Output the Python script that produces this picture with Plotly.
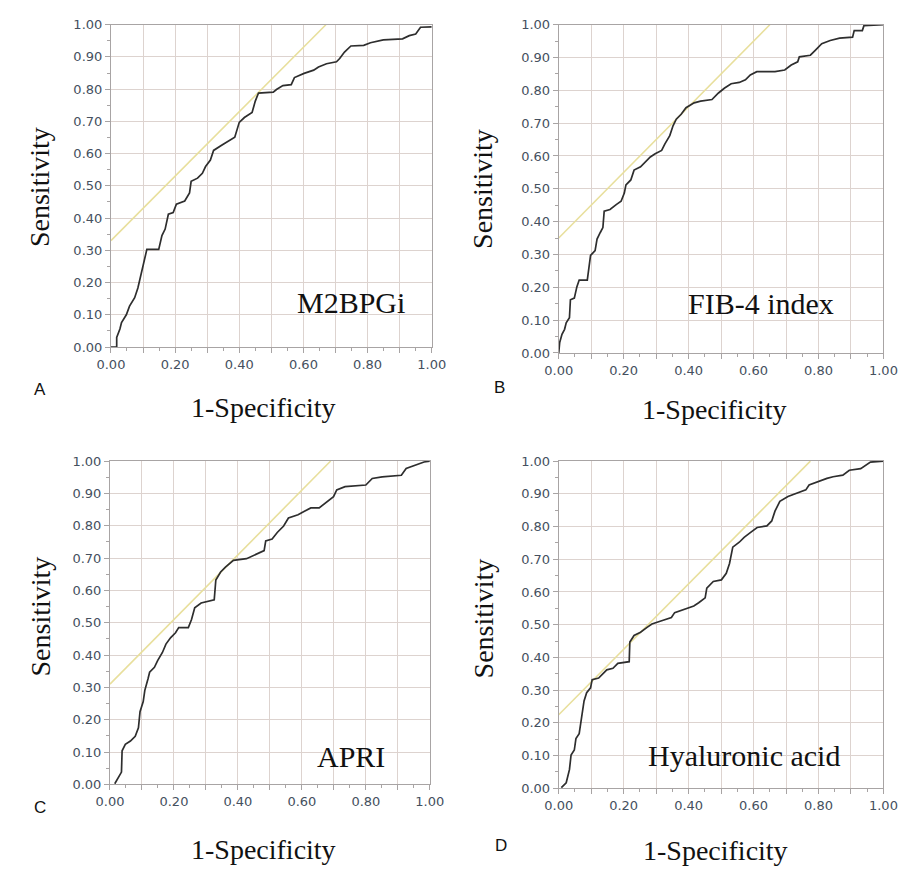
import plotly.graph_objects as go

W, H = 911, 873

# ---------------- data ----------------
m2bpgi_fpr = [0.0, 0.018, 0.018, 0.028, 0.033, 0.048, 0.058, 0.074, 0.084, 0.094, 0.104, 0.112, 0.149, 0.159, 0.169,
              0.179, 0.194, 0.204, 0.23, 0.245, 0.25, 0.27, 0.285, 0.295, 0.31, 0.32, 0.345, 0.37, 0.386, 0.40,
              0.416, 0.44, 0.45, 0.46, 0.506, 0.516, 0.536, 0.562, 0.572, 0.602, 0.632, 0.647, 0.672, 0.703,
              0.713, 0.728, 0.748, 0.788, 0.809, 0.849, 0.909, 0.93, 0.95, 0.965, 1.0]
m2bpgi_tpr = [0.0, 0.0, 0.03, 0.056, 0.076, 0.10, 0.127, 0.153, 0.183, 0.224, 0.265, 0.303, 0.303, 0.346, 0.366,
              0.412, 0.417, 0.443, 0.453, 0.478, 0.514, 0.524, 0.539, 0.56, 0.58, 0.61, 0.626, 0.641, 0.651, 0.697,
              0.712, 0.728, 0.763, 0.788, 0.791, 0.799, 0.811, 0.814, 0.836, 0.849, 0.859, 0.869, 0.879, 0.885,
              0.895, 0.915, 0.934, 0.936, 0.944, 0.953, 0.956, 0.966, 0.971, 0.992, 0.993]

fib4_fpr = [0.0, 0.003, 0.01, 0.018, 0.023, 0.033, 0.036, 0.048, 0.056, 0.063, 0.088, 0.093, 0.098, 0.112, 0.118,
            0.128, 0.136, 0.14, 0.158, 0.177, 0.192, 0.202, 0.207, 0.222, 0.232, 0.252, 0.267, 0.282, 0.297,
            0.317, 0.327, 0.342, 0.352, 0.362, 0.377, 0.392, 0.417, 0.437, 0.472, 0.492, 0.511, 0.531, 0.556,
            0.575, 0.59, 0.61, 0.666, 0.696, 0.716, 0.736, 0.741, 0.775, 0.79, 0.81, 0.836, 0.865, 0.905, 0.91,
            0.935, 0.94, 1.0]
fib4_tpr = [0.0, 0.032, 0.057, 0.072, 0.092, 0.107, 0.162, 0.167, 0.202, 0.222, 0.222, 0.267, 0.297, 0.312, 0.347,
            0.367, 0.382, 0.432, 0.437, 0.452, 0.462, 0.487, 0.512, 0.527, 0.557, 0.567, 0.582, 0.597, 0.607,
            0.617, 0.637, 0.662, 0.692, 0.712, 0.727, 0.747, 0.762, 0.767, 0.772, 0.792, 0.807, 0.82, 0.824,
            0.832, 0.847, 0.857, 0.857, 0.862, 0.877, 0.887, 0.902, 0.907, 0.922, 0.942, 0.952, 0.959, 0.962,
            0.982, 0.982, 0.997, 1.0]

apri_fpr = [0.015, 0.028, 0.036, 0.038, 0.048, 0.064, 0.079, 0.089, 0.094, 0.104, 0.109, 0.119, 0.124, 0.139,
            0.149, 0.164, 0.175, 0.19, 0.205, 0.215, 0.245, 0.255, 0.265, 0.285, 0.326, 0.331, 0.346, 0.361,
            0.386, 0.427, 0.462, 0.482, 0.487, 0.507, 0.523, 0.543, 0.558, 0.588, 0.608, 0.628, 0.654, 0.679,
            0.699, 0.709, 0.735, 0.80, 0.82, 0.851, 0.911, 0.926, 0.957, 0.982, 1.0]
apri_tpr = [0.002, 0.022, 0.038, 0.104, 0.124, 0.134, 0.149, 0.175, 0.225, 0.256, 0.291, 0.327, 0.347, 0.362,
            0.383, 0.408, 0.434, 0.454, 0.469, 0.485, 0.485, 0.51, 0.546, 0.561, 0.571, 0.632, 0.657, 0.672,
            0.693, 0.698, 0.713, 0.723, 0.753, 0.759, 0.779, 0.799, 0.824, 0.834, 0.845, 0.855, 0.855, 0.875,
            0.89, 0.911, 0.921, 0.926, 0.946, 0.951, 0.956, 0.977, 0.987, 0.997, 1.0]

ha_fpr = [0.008, 0.023, 0.033, 0.038, 0.048, 0.053, 0.063, 0.073, 0.078, 0.086, 0.098, 0.103, 0.123, 0.138, 0.148,
          0.167, 0.182, 0.217, 0.219, 0.232, 0.252, 0.272, 0.287, 0.317, 0.347, 0.357, 0.387, 0.416, 0.431,
          0.451, 0.456, 0.476, 0.501, 0.516, 0.526, 0.536, 0.556, 0.571, 0.591, 0.611, 0.641, 0.656, 0.666,
          0.681, 0.706, 0.736, 0.761, 0.771, 0.796, 0.826, 0.845, 0.875, 0.895, 0.93, 0.96, 1.0]
ha_tpr = [0.002, 0.017, 0.057, 0.102, 0.117, 0.152, 0.167, 0.227, 0.267, 0.292, 0.307, 0.332, 0.337, 0.352, 0.362,
          0.367, 0.382, 0.387, 0.447, 0.467, 0.477, 0.492, 0.502, 0.512, 0.522, 0.537, 0.547, 0.557, 0.567,
          0.582, 0.612, 0.632, 0.637, 0.657, 0.687, 0.737, 0.752, 0.767, 0.782, 0.797, 0.802, 0.817, 0.847,
          0.877, 0.892, 0.902, 0.912, 0.927, 0.937, 0.947, 0.952, 0.957, 0.972, 0.977, 0.997, 1.0]

# tangent (reference) lines: intercept at x=0, slope 1
tangent_intercepts = [0.33, 0.35, 0.31, 0.225]

panel_names = ["M2BPGi", "FIB-4 index", "APRI", "Hyaluronic acid"]
panel_letters = ["A", "B", "C", "D"]
x_title = "1-Specificity"
y_title = "Sensitivity"

tick_vals = [i / 10 for i in range(11)]
x_tick_text = [f"{v:.2f}" if i % 2 == 0 else "" for i, v in enumerate(tick_vals)]
y_tick_text = [f"{v:.2f}" for v in tick_vals]

curves = [(m2bpgi_fpr, m2bpgi_tpr), (fib4_fpr, fib4_tpr), (apri_fpr, apri_tpr), (ha_fpr, ha_tpr)]

# ---------------- layout geometry (pixels) ----------------
# (left, right, top, bottom) of each plot area
boxes = [(100, 431, 18, 346), (562, 897, 18, 352), (99, 429, 462, 791), (562, 897, 462, 795)]
name_pos = [(348, 301), (771, 302), (348, 763), (753, 762)]
letter_pos = [(27, 389), (501, 387), (27, 814), (502, 853)]
xtitle_pos = [(257, 407), (723, 410), (257, 857), (724, 858)]
ytitle_pos = [(27, 183), (484, 185), (27, 620), (484, 622)]


def px(x):
    return x / W


def py(y):
    return 1 - y / H


GRID = "#ddd3cf"
LINE = "#a8a4a4"
TICKFONT = dict(family="DejaVu Sans", size=13, color="#45505e")

fig = go.Figure()
layout = dict(
    width=W, height=H, margin=dict(l=0, r=0, t=0, b=0),
    paper_bgcolor="white", plot_bgcolor="white", showlegend=False,
    annotations=[],
)

for i, ((fx, ty), (l, r, t, b)) in enumerate(zip(curves, boxes)):
    n = "" if i == 0 else str(i + 1)
    xa, ya = "x" + n, "y" + n
    c = tangent_intercepts[i]
    fig.add_trace(go.Scatter(x=[0, 1 - c], y=[c, 1.0], mode="lines", xaxis=xa, yaxis=ya,
                             line=dict(color="#e8df9c", width=1.6), hoverinfo="skip"))
    fig.add_trace(go.Scatter(x=fx, y=ty, mode="lines", xaxis=xa, yaxis=ya, cliponaxis=False,
                             line=dict(color="#2e2e2e", width=1.7)))
    common = dict(range=[0, 1], showgrid=True, gridcolor=GRID, gridwidth=1, zeroline=False,
                  showline=True, linecolor=LINE, linewidth=1, mirror=True,
                  ticks="outside", ticklen=5, tickcolor=LINE, tickfont=TICKFONT,
                  tickmode="array", tickvals=tick_vals, fixedrange=True,
                  minor=dict(dtick=0.05, ticks="outside", ticklen=3, tickcolor=LINE, showgrid=False))
    layout["xaxis" + n] = dict(common, domain=[px(l), px(r)], anchor=ya, ticktext=x_tick_text)
    layout["yaxis" + n] = dict(common, domain=[py(b), py(t)], anchor=xa, ticktext=y_tick_text)

    ann = layout["annotations"]
    ann.append(dict(text=panel_names[i], x=px(name_pos[i][0]), y=py(name_pos[i][1]), xref="paper", yref="paper",
                    showarrow=False, xanchor="center", yanchor="middle",
                    font=dict(family="Liberation Serif", size=30, color="#111")))
    ann.append(dict(text=panel_letters[i], x=px(letter_pos[i][0]), y=py(letter_pos[i][1]), xref="paper",
                    yref="paper", showarrow=False, xanchor="center", yanchor="middle",
                    font=dict(family="Liberation Sans", size=17, color="#111")))
    ann.append(dict(text=x_title, x=px(xtitle_pos[i][0]), y=py(xtitle_pos[i][1]), xref="paper", yref="paper",
                    showarrow=False, xanchor="center", yanchor="middle",
                    font=dict(family="Liberation Serif", size=28, color="#111")))
    ann.append(dict(text=y_title, x=px(ytitle_pos[i][0]), y=py(ytitle_pos[i][1]), xref="paper", yref="paper",
                    showarrow=False, xanchor="center", yanchor="middle", textangle=-90,
                    font=dict(family="Liberation Serif", size=28, color="#111")))

fig.update_layout(**layout)
fig.write_html("out.html", config={"displayModeBar": False},
               post_script="document.body.style.margin='0';document.body.style.overflow='hidden';")
